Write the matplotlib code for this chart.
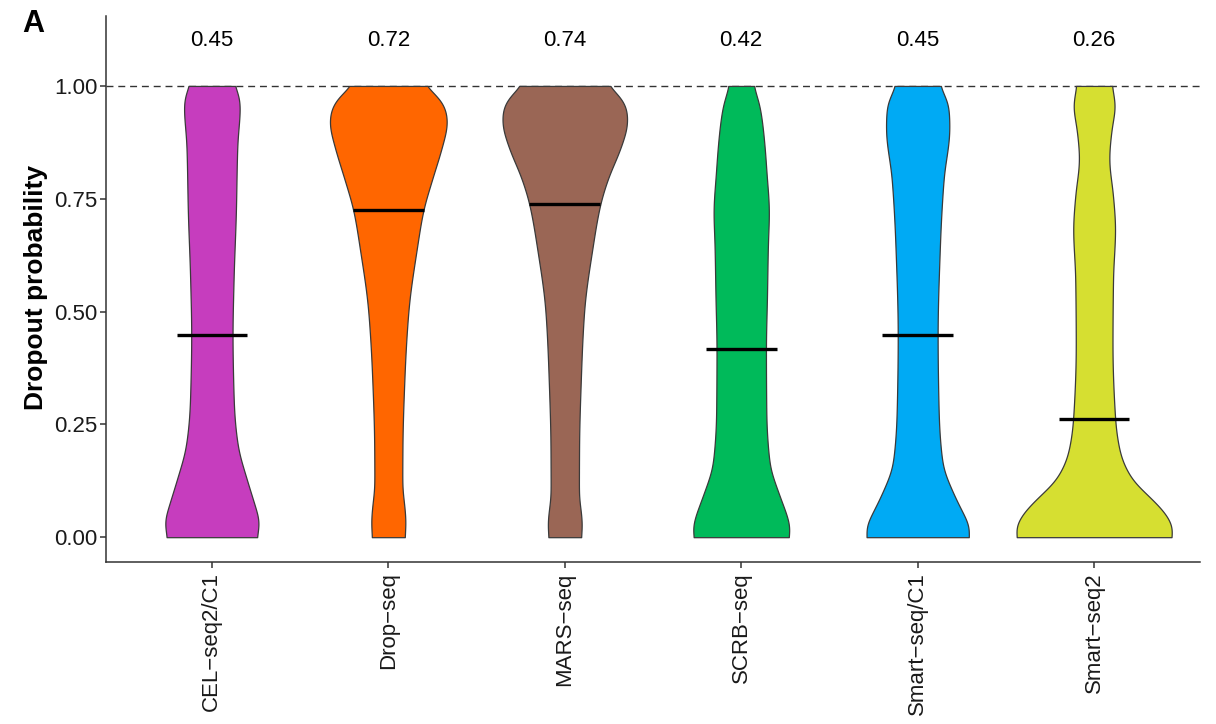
import numpy as np
import matplotlib
matplotlib.use("Agg")
import matplotlib.pyplot as plt

plt.rcParams['font.family'] = ['Liberation Sans', 'DejaVu Sans']

# Protocols shown on the x axis
methods = ["CEL\u2212seq2/C1", "Drop\u2212seq", "MARS\u2212seq",
           "SCRB\u2212seq", "Smart\u2212seq/C1", "Smart\u2212seq2"]

# Median dropout probability per protocol
medians = [0.447, 0.724, 0.738, 0.417, 0.447, 0.262]

fill_colors = ["#C63DBE", "#FF6600", "#9A6655", "#00BA5A", "#00AAF4", "#D6DF31"]

# Violin outlines: dropout probability levels and half-width of the density
cel_levels = [0.0, 0.032, 0.069, 0.128, 0.202, 0.276, 0.313, 0.447, 0.572, 0.720, 0.868, 0.956, 0.985, 1.0]
cel_halfwidth = [0.253, 0.269, 0.244, 0.198, 0.147, 0.127, 0.123, 0.117, 0.123, 0.136, 0.144, 0.159, 0.150, 0.123]

drop_levels = [0.0, 0.032, 0.069, 0.114, 0.202, 0.350, 0.498, 0.646, 0.724, 0.794, 0.868, 0.919, 0.941, 0.979, 1.0]
drop_halfwidth = [0.092, 0.098, 0.091, 0.079, 0.080, 0.091, 0.113, 0.164, 0.198, 0.249, 0.306, 0.334, 0.329, 0.278, 0.198]

mars_levels = [0.0, 0.025, 0.055, 0.092, 0.202, 0.350, 0.498, 0.646, 0.738, 0.794, 0.868, 0.919, 0.941, 0.979, 1.0]
mars_halfwidth = [0.091, 0.098, 0.092, 0.080, 0.081, 0.091, 0.109, 0.159, 0.201, 0.244, 0.321, 0.355, 0.354, 0.312, 0.236]

scrb_levels = [0.0, 0.017, 0.040, 0.092, 0.165, 0.276, 0.417, 0.535, 0.646, 0.720, 0.809, 0.868, 0.956, 1.0]
scrb_halfwidth = [0.266, 0.278, 0.265, 0.217, 0.160, 0.142, 0.140, 0.146, 0.151, 0.157, 0.143, 0.132, 0.104, 0.068]

smartc1_levels = [0.0, 0.021, 0.047, 0.092, 0.165, 0.276, 0.447, 0.646, 0.794, 0.905, 0.956, 1.0]
smartc1_halfwidth = [0.288, 0.295, 0.265, 0.208, 0.140, 0.119, 0.113, 0.126, 0.147, 0.180, 0.175, 0.123]

smart2_levels = [0.0, 0.017, 0.047, 0.084, 0.128, 0.188, 0.262, 0.424, 0.572, 0.683, 0.757, 0.838, 0.905, 0.956, 1.0]
smart2_halfwidth = [0.435, 0.448, 0.414, 0.329, 0.215, 0.146, 0.119, 0.104, 0.107, 0.119, 0.107, 0.085, 0.099, 0.119, 0.099]

profiles = [
    (cel_levels, cel_halfwidth),
    (drop_levels, drop_halfwidth),
    (mars_levels, mars_halfwidth),
    (scrb_levels, scrb_halfwidth),
    (smartc1_levels, smartc1_halfwidth),
    (smart2_levels, smart2_halfwidth),
]

y_ticks = [0.0, 0.25, 0.5, 0.75, 1.0]


def pchip(x, y, xn):
    """Shape-preserving piecewise cubic interpolation."""
    x = np.asarray(x, float)
    y = np.asarray(y, float)
    h = np.diff(x)
    d = np.diff(y) / h
    n = len(x)
    m = np.zeros(n)
    for k in range(1, n - 1):
        if d[k - 1] * d[k] <= 0:
            m[k] = 0.0
        else:
            w1 = 2 * h[k] + h[k - 1]
            w2 = h[k] + 2 * h[k - 1]
            m[k] = (w1 + w2) / (w1 / d[k - 1] + w2 / d[k])
    m[0] = d[0]
    m[-1] = d[-1]
    i = np.clip(np.searchsorted(x, xn) - 1, 0, n - 2)
    t = (xn - x[i]) / h[i]
    h00 = 2 * t**3 - 3 * t**2 + 1
    h10 = t**3 - 2 * t**2 + t
    h01 = -2 * t**3 + 3 * t**2
    h11 = t**3 - t**2
    return h00 * y[i] + h10 * h[i] * m[i] + h01 * y[i + 1] + h11 * h[i] * m[i + 1]


def smooth(values, sigma_pts):
    """Gaussian smoothing with edge padding to soften outline kinks."""
    r = int(3 * sigma_pts)
    k = np.exp(-0.5 * (np.arange(-r, r + 1) / sigma_pts) ** 2)
    k /= k.sum()
    padded = np.pad(values, r, mode="edge")
    return np.convolve(padded, k, mode="valid")


fig = plt.figure(figsize=(12.16, 7.24), dpi=100)
ax = fig.add_axes([106 / 1216, 162 / 724, 1094 / 1216, 546 / 724])

positions = np.arange(1, len(methods) + 1)
grid = np.linspace(0, 1, 500)

# Reference line at full dropout
ax.axhline(1.0, color="#333333", lw=1.0, ls=(0, (5, 3.5)), zorder=1)

for pos, (lv, hw), col in zip(positions, profiles, fill_colors):
    w = smooth(pchip(lv, hw, grid), 8)
    ax.fill_betweenx(grid, pos - w, pos + w, facecolor=col,
                     edgecolor="#3a3a3a", linewidth=0.9, zorder=2)

ax.hlines(medians, positions - 0.2, positions + 0.2, color="black",
          lw=2.4, zorder=3)

for pos, med in zip(positions, medians):
    ax.text(pos, 1.1, f"{med:.2f}", ha="center", va="center",
            fontsize=16, color="black")

ax.set_xlim(0.4, len(methods) + 0.6)
ax.set_ylim(-0.055, 1.155)
ax.set_xticks(positions)
ax.set_xticklabels(methods, rotation=90, ha="center", va="top",
                   fontsize=16, color="#1a1a1a")
ax.set_yticks(y_ticks)
ax.set_yticklabels([f"{t:.2f}" for t in y_ticks], fontsize=16, color="#1a1a1a")

for side in ("top", "right"):
    ax.spines[side].set_visible(False)
for side in ("left", "bottom"):
    ax.spines[side].set_color("#333333")
    ax.spines[side].set_linewidth(1.1)
ax.tick_params(axis="both", length=4.5, width=1.1, color="#333333")
ax.tick_params(axis="y", pad=1.5)
ax.tick_params(axis="x", pad=3)

fig.text(36 / 1216, 1 - 287 / 724, "Dropout probability", rotation=90,
         ha="center", va="center", fontsize=19, fontweight="bold")
fig.text(22 / 1216, 1 - 32 / 724, "A", ha="left", va="baseline",
         fontsize=22, fontweight="bold")

fig.savefig("out.png", dpi=100)
